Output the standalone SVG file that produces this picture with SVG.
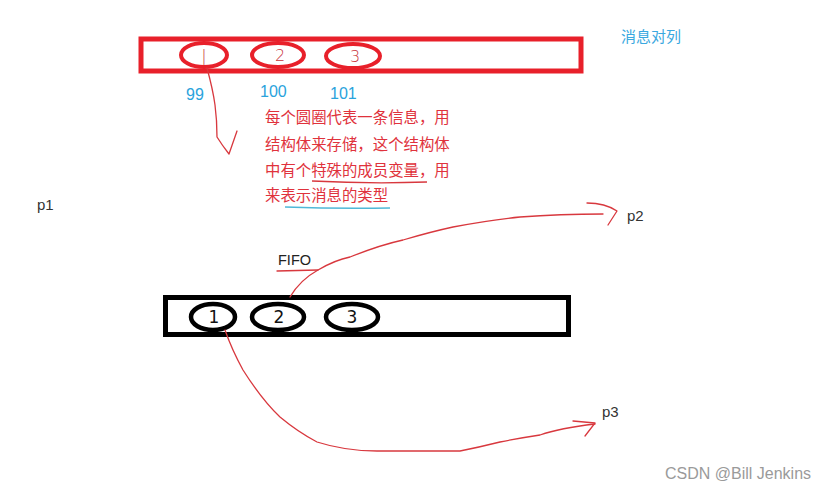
<svg xmlns="http://www.w3.org/2000/svg" width="831" height="490" viewBox="0 0 831 490">
<style>
.red-box{fill:none;stroke:#e8202a;stroke-width:5}
.red-ell{fill:none;stroke:#e8202a;stroke-width:4}
.blk-box{fill:none;stroke:#000;stroke-width:5}
.blk-ell{fill:none;stroke:#000;stroke-width:4.5}
.hand-red{font-family:"DejaVu Sans",sans-serif;font-size:16px;fill:#c8323a;font-weight:200}
.hand-blk{font-family:"DejaVu Sans",sans-serif;font-size:17px;fill:#111}
.num{font-family:"Liberation Sans",Arial,sans-serif;font-size:16px;fill:#2aa3dc}
.note{font-family:"Liberation Sans","Noto Sans CJK SC",sans-serif;font-size:15.4px;fill:#e0323c}
.lbl{font-family:"Liberation Sans",Arial,sans-serif;font-size:15px;fill:#333}
.pen{fill:none;stroke:#d8383e;stroke-width:1.3;stroke-linecap:round;stroke-linejoin:round}
</style>
<rect width="831" height="490" fill="#fff"/>

<g id="msg-queue">
  <rect class="red-box" x="141" y="39" width="440" height="32"/>
  <g id="msg1"><ellipse class="red-ell" cx="204" cy="55" rx="23" ry="12"/><text class="hand-red" x="204" y="61" text-anchor="middle">|</text></g>
  <g id="msg2"><ellipse class="red-ell" cx="278" cy="55" rx="26" ry="12"/><text class="hand-red" x="280" y="61" text-anchor="middle">2</text></g>
  <g id="msg3"><ellipse class="red-ell" cx="353" cy="56" rx="27" ry="12"/><text class="hand-red" x="355" y="62" text-anchor="middle">3</text></g>
</g>

<g id="queue-title"><text x="621" y="42" font-family="Liberation Sans,'Noto Sans CJK SC',sans-serif" font-size="15" fill="#3aa8e0">消息对列</text></g>

<g id="types">
  <text class="num" x="186" y="100">99</text>
  <text class="num" x="260" y="97">100</text>
  <text class="num" x="330" y="99">101</text>
</g>

<g id="note">
  <text class="note" x="265" y="123">每个圆圈代表一条信息，用</text>
  <text class="note" x="265" y="150">结构体来存储，这个结构体</text>
  <text class="note" x="265" y="176">中有个特殊的成员变量，用</text>
  <text class="note" x="265" y="201">来表示消息的类型</text>
  <path d="M312 181 Q370 184 427 182" fill="none" stroke="#d8383e" stroke-width="1.3"/>
  <path d="M285 207 Q340 209 390 208" fill="none" stroke="#4fb8d8" stroke-width="1.5"/>
</g>

<g id="fifo-queue">
  <rect class="blk-box" x="165.5" y="297.5" width="403" height="37"/>
  <g id="item1"><ellipse class="blk-ell" cx="213" cy="317" rx="22" ry="13"/><text class="hand-blk" x="214" y="323" text-anchor="middle">1</text></g>
  <g id="item2"><ellipse class="blk-ell" cx="278" cy="317" rx="26" ry="13"/><text class="hand-blk" x="279" y="323" text-anchor="middle">2</text></g>
  <g id="item3"><ellipse class="blk-ell" cx="352" cy="317" rx="26" ry="13"/><text class="hand-blk" x="352" y="323" text-anchor="middle">3</text></g>
</g>

<g id="fifo-label">
  <text x="278" y="265" font-family="Liberation Sans,Arial,sans-serif" font-size="14.5" fill="#222">FIFO</text>
  <path class="pen" d="M277 271 L318 270"/>
</g>

<g id="p1"><text class="lbl" x="37" y="210">p1</text></g>
<g id="p2"><text class="lbl" x="627" y="221">p2</text></g>
<g id="p3"><text class="lbl" x="602" y="417">p3</text></g>

<g id="connectors">
  <path class="pen" d="M207 68 Q213 90 215 105 Q217 120 217 137 Q222 145 229 154 L237 131"/>
  <path class="pen" d="M290 297 Q300 280 318 270 Q335 260 350 257 Q380 245 403 240 Q430 232 453 227 Q490 220 520 217 Q560 214 603 214"/>
  <path class="pen" d="M587 203 Q605 203 617 211 L608 225"/>
  <path class="pen" d="M225 330 Q232 350 243 370 Q262 400 280 417 Q298 432 317 442 Q345 451 377 451 L460 451 Q480 447 500 442 Q520 438 540 435 Q560 428 595 424"/>
  <path class="pen" d="M573 421 L595 423 L585 436"/>
</g>

<g id="watermark"><text x="665" y="479" font-family="Liberation Sans,Arial,sans-serif" font-size="16" fill="#9a9a9a">CSDN @Bill Jenkins</text></g>
</svg>
